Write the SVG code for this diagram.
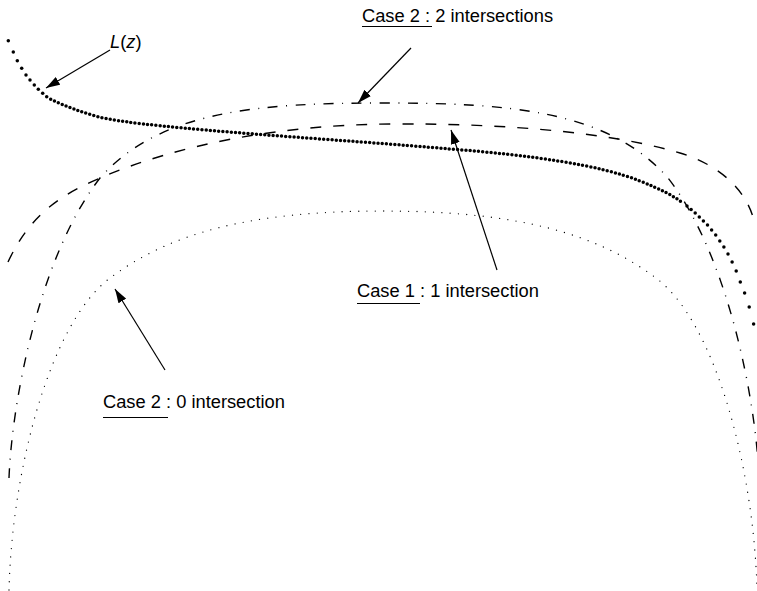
<svg xmlns="http://www.w3.org/2000/svg" width="757" height="591" viewBox="0 0 757 591">
<style>
  .curve{fill:none;stroke:#000;}
  .lz{stroke-width:3.5;stroke-dasharray:0 4.2;stroke-linecap:round;}
  .lzdot{fill:#000;}
  .dashdot{stroke-width:1.4;stroke-dasharray:10 8.5 1 8.5;}
  .dashed{stroke-width:1.4;stroke-dasharray:11 12;}
  .dotted{stroke-width:1.3;stroke-dasharray:0 8.3;stroke-linecap:round;}
  .arrow{fill:none;stroke:#000;stroke-width:1.2;marker-end:url(#ah);}
  .ul{stroke:#000;stroke-width:1.2;}
  text{font-family:"Liberation Sans",Arial,Helvetica,sans-serif;font-size:18.3px;fill:#000;}
</style>
<defs>
  <marker id="ah" viewBox="0 0 14 9" refX="14" refY="4.5" markerWidth="14" markerHeight="9" markerUnits="userSpaceOnUse" orient="auto">
    <path d="M0,0 L14,4.5 L0,9 z" fill="#000"/>
  </marker>
</defs>
<rect width="757" height="591" fill="#fff"/>
<g id="curves">
  <path id="curve-dotted" class="curve dotted" d="M9,590 C12,470 50,323 110,278 C170,233 250,211 383,211 C516,211 596,233 656,278 C716,323 754,470 757,590"/>
  <path id="curve-dashdot" class="curve dashdot" d="M9,478 C12,400 40,255 100,178 C160,110 260,103 384,103 C508,103 608,110 668,178 C728,255 756,400 759,478"/>
  <path id="curve-dashed" class="curve dashed" d="M8,262 C30,215 60,195 100,178 C180,144 280,125 390,124 C520,123 620,135 680,153 C720,165 745,190 753,217"/>
  <g id="curve-Lz">
    <g class="lzdot">
      <circle cx="8.3" cy="40.7" r="1.75"/>
      <circle cx="13.3" cy="52" r="1.75"/>
      <circle cx="17.3" cy="60.7" r="1.75"/>
      <circle cx="21.7" cy="68.3" r="1.75"/>
      <circle cx="26" cy="75" r="1.75"/>
      <circle cx="30" cy="80" r="1.75"/>
      <circle cx="34.3" cy="85" r="1.75"/>
      <circle cx="38.3" cy="89.3" r="1.75"/>
      <circle cx="42.7" cy="93.3" r="1.75"/>
      <circle cx="46.7" cy="96.7" r="1.75"/>
    </g>
    <path class="curve lz" d="M50.7,99.3 C65,106 82,112.5 100,117.3 C150,129 350,140 450,149 C530,155 600,165 640,181 C660,189 672,195 683,203"/>
    <g class="lzdot">
      <circle cx="687" cy="206" r="1.75"/>
      <circle cx="691.1" cy="209.5" r="1.75"/>
      <circle cx="695.2" cy="213" r="1.75"/>
      <circle cx="699.3" cy="217" r="1.75"/>
      <circle cx="703.4" cy="221" r="1.75"/>
      <circle cx="707.5" cy="225" r="1.75"/>
      <circle cx="711.6" cy="230" r="1.75"/>
      <circle cx="715.7" cy="235" r="1.75"/>
      <circle cx="719.8" cy="241" r="1.75"/>
      <circle cx="723.9" cy="247" r="1.75"/>
      <circle cx="728" cy="254" r="1.75"/>
      <circle cx="732.1" cy="262" r="1.75"/>
      <circle cx="736.2" cy="271" r="1.75"/>
      <circle cx="740.3" cy="282" r="1.75"/>
      <circle cx="744.6" cy="293" r="1.75"/>
      <circle cx="749.2" cy="307" r="1.75"/>
      <circle cx="753.6" cy="324" r="1.75"/>
    </g>
  </g>
</g>
<g id="connectors">
  <line class="arrow" x1="110" y1="50" x2="46" y2="88"/>
  <line class="arrow" x1="411" y1="48" x2="358" y2="103"/>
  <line class="arrow" x1="497" y1="270" x2="451" y2="130"/>
  <line class="arrow" x1="165" y1="370" x2="115" y2="289"/>
</g>
<g id="label-Lz">
  <text x="110" y="48"><tspan font-style="italic">L</tspan>(<tspan font-style="italic">z</tspan>)</text>
</g>
<g id="label-case2-2">
  <text x="362" y="22">Case 2 : 2 intersections</text>
  <line class="ul" x1="362" y1="26.5" x2="432" y2="26.5"/>
</g>
<g id="label-case1-1">
  <text x="357" y="297">Case 1 : 1 intersection</text>
  <line class="ul" x1="357" y1="303.5" x2="420" y2="303.5"/>
</g>
<g id="label-case2-0">
  <text x="103" y="408">Case 2 : 0 intersection</text>
  <line class="ul" x1="103" y1="417.5" x2="168" y2="417.5"/>
</g>
</svg>
